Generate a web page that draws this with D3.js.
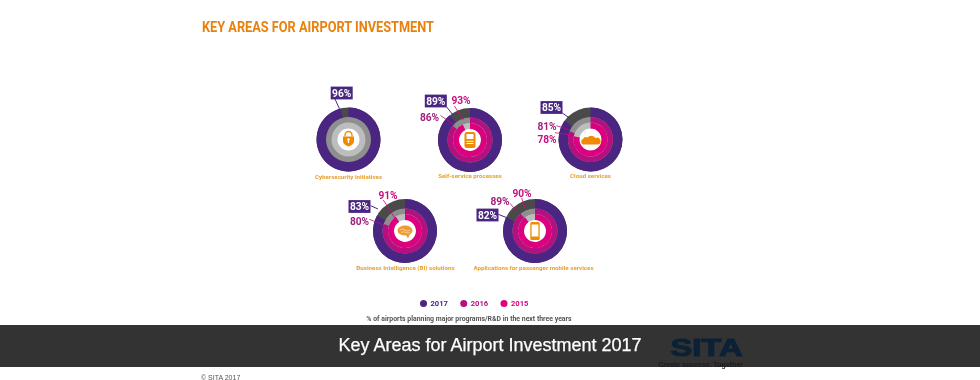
<!DOCTYPE html>
<html><head><meta charset="utf-8">
<script src="https://cdnjs.cloudflare.com/ajax/libs/d3/7.8.5/d3.min.js"></script>
<style>html,body{margin:0;padding:0;background:#fff;overflow:hidden}svg{display:block;filter:blur(0.35px)}text{font-family:Roboto,sans-serif;font-weight:700}</style>
</head><body><svg id="c" width="980" height="380"></svg>
<script>
const categories = ["Cybersecurity initiatives","Self-service processes","Cloud services","Business Intelligence (BI) solutions","Applications for passenger mobile services"];
const years = ["2017","2016","2015"];
const values2017 = [96,89,85,83,82];
const values2016 = [null,86,81,80,89];
const values2015 = [null,93,78,91,90];
const yearColors = ["#4a2582","#b4107f","#dc007f"];
const restColors = ["#4a4a4a","#8f8f8f","#bdbdbd"];

// layout only
const centers = [[348.5,139.5],[470,140],[590.5,139.5],[405,231],[535,231]];
const captionPos = [[348.5,178.5],[470,178],[590.5,178],[405.5,270],[533.5,270]];
const rings = [[22.5,32],[17,22.5],[11,17]];
const labelPos = [
 [{x:341.7,y:93,line:[[335,99],[340,110]]},null,null],
 [{x:435.8,y:101,line:[[446.7,107],[453,115]]},{x:429.5,y:117,line:[[440.5,115.5],[455,125.5]]},{x:461,y:100.5,line:[[454.5,106],[463,120]]}],
 [{x:551.5,y:107.5,line:[[562.3,113],[569.5,118]]},{x:547,y:126,line:[[556.5,125.7],[570,130]]},{x:547,y:139.5,line:[[555,132.7],[571.5,135]]}],
 [{x:359.5,y:206.5,line:[[370.7,205.7],[378,209]]},{x:359.5,y:221.7,line:[[369.3,219.3],[383.3,225]]},{x:388,y:195,line:[[383.3,200],[398,223]]}],
 [{x:487.5,y:215,line:[[498.3,214.3],[508.3,218.3]]},{x:500,y:201.7,line:[[510,203.3],[518.3,213.3]]},{x:522,y:193.3,line:[[521.7,198],[525,208]]}]
];

const svg = d3.select("#c");
const angle = d3.scaleLinear().domain([0,100]).range([0,2*Math.PI]);
const arc = d3.arc();
const lineGen = d3.line();

svg.append("text").attr("x",202).attr("y",32).attr("fill","#e8820c").attr("font-size",14.5).attr("textLength",232).attr("lengthAdjust","spacingAndGlyphs").text("KEY AREAS FOR AIRPORT INVESTMENT");

const series = [values2017,values2016,values2015];
categories.forEach((cat,i)=>{
  const g = svg.append("g").attr("transform",`translate(${centers[i]})`);
  series.forEach((vals,s)=>{
    const v = vals[i]===null?0:vals[i];
    const [r0,r1] = rings[s];
    const inner = s<2 ? r0-0.6 : r0;
    g.append("path").attr("fill",restColors[s]).attr("d",arc({innerRadius:inner,outerRadius:r1,startAngle:angle(0),endAngle:angle(100)}));
    g.append("path").attr("fill",yearColors[s]).attr("d",arc({innerRadius:inner,outerRadius:r1,startAngle:angle(0),endAngle:angle(v)}));
  });
  svg.append("text").attr("x",captionPos[i][0]).attr("y",captionPos[i][1]).attr("text-anchor","middle").attr("font-size",6.2).attr("fill","#e8a02e").text(cat);

  series.forEach((vals,s)=>{
    if(vals[i]===null) return;
    const p = labelPos[i][s];
    svg.append("path").attr("d",lineGen(p.line)).attr("fill","none").attr("stroke",yearColors[s]).attr("stroke-width",s===0?1:0.8);
    if(s===0){
      svg.append("rect").attr("x",p.x-11).attr("y",p.y-6.4).attr("width",22).attr("height",12.8).attr("fill",yearColors[0]);
    }
    svg.append("text").attr("x",p.x).attr("y",p.y+3.6).attr("text-anchor","middle").attr("font-size",10.2)
      .attr("fill",s===0?"#fff":(s===1?"#a3207f":"#c4107f")).text(vals[i]+"%");
  });
});

// centre icons
const ic = "#f08a00";
function iconG(i){return svg.append("g").attr("transform",`translate(${centers[i]})`);}
let a = iconG(0);
a.append("path").attr("d","M-3.5,-3V-4.5A3.5,3.5 0 0 1 3.5,-4.5V-3").attr("fill","none").attr("stroke",ic).attr("stroke-width",1.3);
a.append("path").attr("d","M-5.5,-3H5.5V1.5Q5.5,5 0,7Q-5.5,5 -5.5,1.5Z").attr("fill",ic);
a.append("circle").attr("cy",0).attr("r",1.2).attr("fill","#fff");
a.append("rect").attr("x",-0.6).attr("y",0).attr("width",1.2).attr("height",3.5).attr("fill","#fff");
a = iconG(1);
a.append("rect").attr("x",-5.5).attr("y",-8).attr("width",11).attr("height",16).attr("rx",2.5).attr("fill",ic);
a.append("rect").attr("x",-3.5).attr("y",-6).attr("width",7).attr("height",5).attr("fill","#fff");
a.append("rect").attr("x",-3.5).attr("y",0.8).attr("width",7).attr("height",1).attr("fill","#fff");
a.append("rect").attr("x",-3.5).attr("y",3).attr("width",7).attr("height",1).attr("fill","#fff");
a = iconG(2);
a.append("path").attr("d","M-7.5,5A3,3 0 0 1 -7.5,-0.5A3.5,3.5 0 0 1 -3,-2A5,5 0 0 1 5,-1.5A3.4,3.4 0 0 1 8,5Z").attr("fill",ic);
a = iconG(3);
a.append("ellipse").attr("rx",7.5).attr("ry",5).attr("cy",-0.5).attr("fill","#ee9a30");
a.append("path").attr("d","M1,4L3,7.5L5,3Z").attr("fill","#ee9a30");
a.append("path").attr("d","M-5,-1Q-2,-3 0,-1T5,-1M-4,1.5Q-1,0 1,1.5T5,1").attr("fill","none").attr("stroke","#fff").attr("stroke-width",0.5);
a = iconG(4);
a.append("rect").attr("x",-4.7).attr("y",-9).attr("width",9.4).attr("height",18).attr("rx",1.5).attr("fill",ic);
a.append("rect").attr("x",-3.4).attr("y",-6.5).attr("width",6.8).attr("height",12).attr("fill","#fff");

// legend
const legendX = d3.scalePoint().domain(years).range([423.5,504]);
years.forEach((y,k)=>{
  svg.append("circle").attr("cx",legendX(y)).attr("cy",303.5).attr("r",3.5).attr("fill",yearColors[k]);
  svg.append("text").attr("x",legendX(y)+7).attr("y",306.2).attr("font-size",7.6).attr("fill",yearColors[k]).text(y);
});
svg.append("text").attr("x",469).attr("y",320.5).attr("text-anchor","middle").attr("font-size",6.9).attr("fill","#555").text("% of airports planning major programs/R&D in the next three years");

// band
svg.append("rect").attr("x",0).attr("y",325).attr("width",980).attr("height",42).attr("fill","#333333");
svg.append("text").attr("x",490).attr("y",351).attr("text-anchor","middle").attr("fill","#fff").attr("stroke","#fff").attr("stroke-width",0.25).attr("font-size",18).style("font-family","'Liberation Sans',Arial,sans-serif").style("font-weight",400).text("Key Areas for Airport Investment 2017");
svg.append("text").attr("x",670.5).attr("y",356).attr("fill","#0b2236").attr("stroke","#0b2236").attr("stroke-width",1.1).attr("font-size",24).attr("textLength",72).attr("lengthAdjust","spacingAndGlyphs").style("font-family","'Liberation Sans',Arial,sans-serif").style("font-weight",700).text("SITA");
svg.append("text").attr("x",743).attr("y",366.5).attr("text-anchor","end").attr("fill","#1c1c1c").attr("font-size",7).style("font-family","'Liberation Sans',Arial,sans-serif").style("font-weight",700).text("Create success. Together");
svg.append("text").attr("x",201).attr("y",380).attr("fill","#555").attr("font-size",7).style("font-family","'Liberation Sans',Arial,sans-serif").style("font-weight",400).text("© SITA 2017");
</script></body></html>
